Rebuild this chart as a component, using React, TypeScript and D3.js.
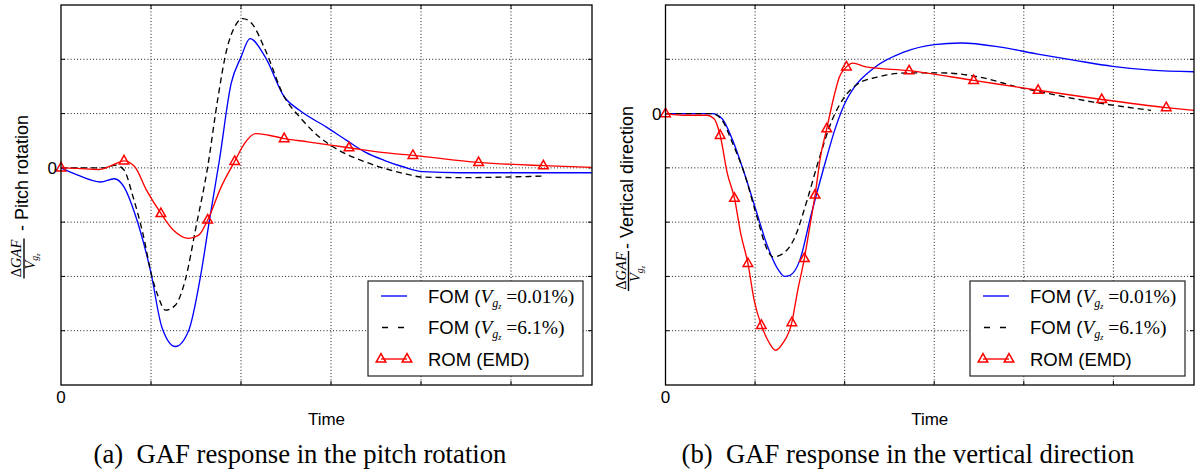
import React from 'react';
import * as d3 from 'd3';

// values, in grid units (one grid cell = 1)
type Pt = [number, number];

const pitchFomLow: Pt[] = [
  [0, 0], [0.18, -0.13], [0.44, -0.26], [0.59, -0.2], [0.7, -0.35], [0.82, -0.84],
  [1.0, -1.94], [1.12, -2.93], [1.27, -3.29], [1.42, -2.99], [1.55, -2.0], [1.65, -0.96],
  [1.76, 0.14], [1.89, 1.55], [2.0, 2.04], [2.1, 2.38], [2.27, 2.04], [2.48, 1.31],
  [2.65, 1.06], [2.95, 0.75], [3.17, 0.51], [3.38, 0.29], [3.59, 0.14], [3.8, 0.02],
  [4.02, -0.07], [4.44, -0.09], [5.9, -0.09],
];
const pitchFomHigh: Pt[] = [
  [0, 0], [0.48, 0], [0.61, 0.05], [0.7, -0.04], [0.8, -0.53], [0.91, -1.21],
  [1.01, -2.0], [1.08, -2.37], [1.16, -2.62], [1.27, -2.53], [1.38, -2.07], [1.5, -1.09],
  [1.63, 0.02], [1.74, 1.25], [1.84, 2.17], [1.93, 2.6], [2.02, 2.75], [2.12, 2.66],
  [2.27, 2.17], [2.48, 1.31], [2.65, 0.94], [2.87, 0.57], [3.08, 0.33], [3.38, 0.11],
  [3.8, -0.1], [4.02, -0.17], [4.44, -0.18], [5.38, -0.15],
];
const pitchRomMarkers: Pt[] = [
  [0, 0], [0.7, 0.13], [1.11, -0.84], [1.63, -0.96], [1.93, 0.12], [2.48, 0.54],
  [3.2, 0.37], [3.91, 0.23], [4.64, 0.1], [5.36, 0.04],
];
const pitchRomCurve: Pt[] = [
  [0.18, -0.01], [0.42, -0.03], [0.57, 0.05], [0.82, 0.02], [0.95, -0.41], [1.25, -1.15],
  [1.42, -1.3], [1.53, -1.24], [1.78, -0.35], [2.04, 0.45], [2.16, 0.63], [2.31, 0.6],
  [2.74, 0.48], [3.59, 0.28], [5.9, 0.01],
];

const vertFomLow: Pt[] = [
  [0, 0], [0.52, 0], [0.63, -0.09], [0.75, -0.49], [0.88, -1.1], [1.01, -1.78],
  [1.14, -2.45], [1.26, -2.88], [1.33, -3.0], [1.39, -2.98], [1.5, -2.7], [1.62, -1.9],
  [1.77, -0.98], [1.9, -0.25], [2.0, 0.18], [2.11, 0.49], [2.32, 0.83], [2.66, 1.13],
  [3.0, 1.27], [3.3, 1.3], [3.72, 1.23], [4.14, 1.1], [4.57, 0.98], [4.99, 0.87],
  [5.42, 0.8], [5.9, 0.77],
];
const vertFomHigh: Pt[] = [
  [0, 0], [0.52, 0], [0.63, -0.12], [0.75, -0.55], [0.88, -1.1], [1.01, -1.84],
  [1.14, -2.52], [1.2, -2.64], [1.31, -2.58], [1.43, -2.33], [1.58, -1.6], [1.71, -0.86],
  [1.86, -0.12], [2.0, 0.31], [2.15, 0.55], [2.36, 0.67], [2.7, 0.75], [3.08, 0.75],
  [3.51, 0.67], [3.93, 0.49], [4.36, 0.34], [4.78, 0.21], [5.42, 0.06],
];
const vertRomMarkers: Pt[] = [
  [0, 0], [0.61, -0.4], [0.77, -1.56], [0.92, -2.76], [1.07, -3.9], [1.41, -3.85],
  [1.55, -2.67], [1.67, -1.5], [1.8, -0.28], [2.02, 0.86], [2.72, 0.79], [3.44, 0.61],
  [4.16, 0.43], [4.87, 0.26], [5.59, 0.11],
];
const vertRomCurve: Pt[] = [
  [0.2, -0.03], [0.46, -0.03], [0.54, -0.09], [0.69, -1.1], [0.84, -2.21], [0.99, -3.44],
  [1.16, -4.23], [1.23, -4.36], [1.31, -4.23], [1.47, -3.31], [1.61, -2.09], [1.73, -0.8],
  [1.88, 0.31], [1.94, 0.67], [2.09, 0.93], [2.24, 0.86], [5.9, 0.06],
];

const xTicks = [0, 1, 2, 3, 4, 5];
const legendLabels = ['FOM', 'FOM', 'ROM (EMD)'];
const legendRatios = ['0.01%', '6.1%'];
const captions = ['(a)\u00a0\u00a0GAF response in the pitch rotation', '(b)\u00a0\u00a0GAF response in the vertical direction'];
const yTitles = ['Pitch rotation', 'Vertical direction'];

const W = 1195;
const H = 475;
const SANS = '"Liberation Sans", Arial, Helvetica, sans-serif';
const SERIF = '"Liberation Serif", "Times New Roman", serif';

const triangle = 'M0,-5.4L4.8,3.1L-4.8,3.1Z';

function Panel(props: {
  ox: number; x1: number; yDom: [number, number];
  fomLow: Pt[]; fomHigh: Pt[]; romMarkers: Pt[]; romCurve: Pt[];
  title: string; caption: string; capX: number;
  fracC: number; titleStart: number;
}) {
  const { ox, x1, yDom } = props;
  const top = 5, bottom = 385;
  const x = d3.scaleLinear().domain([0, 5.9]).range([ox, x1]);
  const y = d3.scaleLinear().domain(yDom).range([bottom, top]);
  const line = d3.line<Pt>().x(d => x(d[0])).y(d => y(d[1])).curve(d3.curveMonotoneX);
  const rom = [...props.romMarkers, ...props.romCurve].sort((a, b) => a[0] - b[0]);
  const yTicks = d3.range(yDom[0] + 1, yDom[1]);
  const lx = x1 - 224, ly = 281; // legend box
  const fx = ox - 61; // x offset of the label block

  return (
    <g>
      {/* grid */}
      {xTicks.slice(1).map(t => (
        <line key={'gx' + t} x1={x(t)} x2={x(t)} y1={top} y2={bottom}
          stroke="#000" strokeWidth={0.9} strokeDasharray="1,2.2" />
      ))}
      {yTicks.map(t => (
        <line key={'gy' + t} x1={ox} x2={x1} y1={y(t)} y2={y(t)}
          stroke="#000" strokeWidth={0.9} strokeDasharray="1,2.2" />
      ))}
      {/* ticks inward on all sides */}
      {xTicks.slice(1).map(t => (
        <g key={'tx' + t} stroke="#000" strokeWidth={1}>
          <line x1={x(t)} x2={x(t)} y1={bottom} y2={bottom - 4} />
          <line x1={x(t)} x2={x(t)} y1={top} y2={top + 4} />
        </g>
      ))}
      {yTicks.map(t => (
        <g key={'ty' + t} stroke="#000" strokeWidth={1}>
          <line x1={ox} x2={ox + 4} y1={y(t)} y2={y(t)} />
          <line x1={x1} x2={x1 - 4} y1={y(t)} y2={y(t)} />
        </g>
      ))}

      {/* series */}
      <path d={line(props.fomLow) ?? ''} fill="none" stroke="#0000ff" strokeWidth={1.35} />
      <path d={line(props.fomHigh) ?? ''} fill="none" stroke="#000" strokeWidth={1.35} strokeDasharray="6,4" />
      <path d={line(rom) ?? ''} fill="none" stroke="#ff0000" strokeWidth={1.35} />
      {props.romMarkers.map((d, i) => (
        <path key={'m' + i} d={triangle} transform={`translate(${x(d[0])},${y(d[1])})`}
          fill="none" stroke="#ff0000" strokeWidth={1.5} />
      ))}

      {/* frame */}
      <rect x={ox} y={top} width={x1 - ox} height={bottom - top} fill="none" stroke="#000" strokeWidth={1.3} />

      {/* tick labels */}
      <text x={ox - 4} y={y(0) + 6} textAnchor="end" fontFamily={SANS} fontSize={17}>0</text>
      <text x={ox} y={403} textAnchor="middle" fontFamily={SANS} fontSize={17}>0</text>
      <text x={(ox + x1) / 2} y={425} textAnchor="middle" fontFamily={SANS} fontSize={17}>Time</text>

      {/* y title: fraction + text, rotated */}
      <g transform="rotate(-90)">
        <text x={-props.fracC} y={fx + 21} textAnchor="middle" fontFamily={SERIF} fontSize={14.5}>
          Δ<tspan fontStyle="italic">GAF</tspan>
        </text>
        <line x1={-props.fracC - 20} x2={-props.fracC + 20} y1={fx + 24} y2={fx + 24} stroke="#000" strokeWidth={1.4} />
        <text x={-props.fracC - 3} y={fx + 35} textAnchor="middle" fontFamily={SERIF} fontSize={14.5}>
          <tspan fontStyle="italic">V</tspan>
          <tspan fontStyle="italic" fontSize={9.5} dy={3}>g</tspan>
          <tspan fontStyle="italic" fontSize={6.5} dy={2}>z</tspan>
        </text>
        <text x={-props.titleStart} y={fx + 28} fontFamily={SANS} fontSize={18}>
          {'- ' + props.title}
        </text>
      </g>

      {/* legend */}
      <rect x={lx} y={ly} width={215} height={95} fill="#fff" stroke="#222" strokeWidth={1.2} />
      {[0, 1, 2].map(i => {
        const ry = ly + 15 + i * 31.5;
        const sx0 = lx + 13, sx1 = lx + 39;
        return (
          <g key={'lg' + i}>
            {i === 0 && <line x1={sx0} x2={sx1} y1={ry} y2={ry} stroke="#0000ff" strokeWidth={1.35} />}
            {i === 1 && <line x1={sx0} x2={sx1} y1={ry} y2={ry} stroke="#000" strokeWidth={1.35} strokeDasharray="6,10" strokeDashoffset={-1} />}
            {i === 2 && (
              <g>
                <line x1={sx0} x2={sx1} y1={ry} y2={ry} stroke="#ff0000" strokeWidth={1.35} />
                <path d={triangle} transform={`translate(${sx0},${ry})`} fill="none" stroke="#ff0000" strokeWidth={1.5} />
                <path d={triangle} transform={`translate(${sx1},${ry})`} fill="none" stroke="#ff0000" strokeWidth={1.5} />
              </g>
            )}
            <text x={lx + 60} y={ry + 6.5} fontFamily={SANS} fontSize={18.5}>
              {i < 2 ? (
                <>
                  {legendLabels[i] + ' ('}
                  <tspan fontFamily={SERIF} fontStyle="italic" fontSize={19.5}>V</tspan>
                  <tspan fontFamily={SERIF} fontStyle="italic" fontSize={12} dy={4}>g</tspan>
                  <tspan fontFamily={SERIF} fontStyle="italic" fontSize={8} dy={2}>z</tspan>
                  <tspan fontFamily={SERIF} fontSize={19.5} dy={-6}>{'\u00a0=' + legendRatios[i] + ')'}</tspan>
                </>
              ) : legendLabels[i]}
            </text>
          </g>
        );
      })}

      {/* caption */}
      <text x={props.capX} y={463} textAnchor="middle" fontFamily={SERIF} fontSize={26.7}>{props.caption}</text>
    </g>
  );
}

export default function App() {
  return (
    <svg width={W} height={H} style={{ position: 'absolute', left: 0, top: 0, background: '#fff' }}>
      <rect width={W} height={H} fill="#fff" />
      <Panel ox={61} x1={592} yDom={[-4, 3]}
        fomLow={pitchFomLow} fomHigh={pitchFomHigh} romMarkers={pitchRomMarkers} romCurve={pitchRomCurve}
        title={yTitles[0]} caption={captions[0]} capX={300} fracC={258.5} titleStart={231} />
      <Panel ox={665.5} x1={1194} yDom={[-5, 2]}
        fomLow={vertFomLow} fomHigh={vertFomHigh} romMarkers={vertRomMarkers} romCurve={vertRomCurve}
        title={yTitles[1]} caption={captions[1]} capX={908} fracC={271} titleStart={249} />
    </svg>
  );
}
